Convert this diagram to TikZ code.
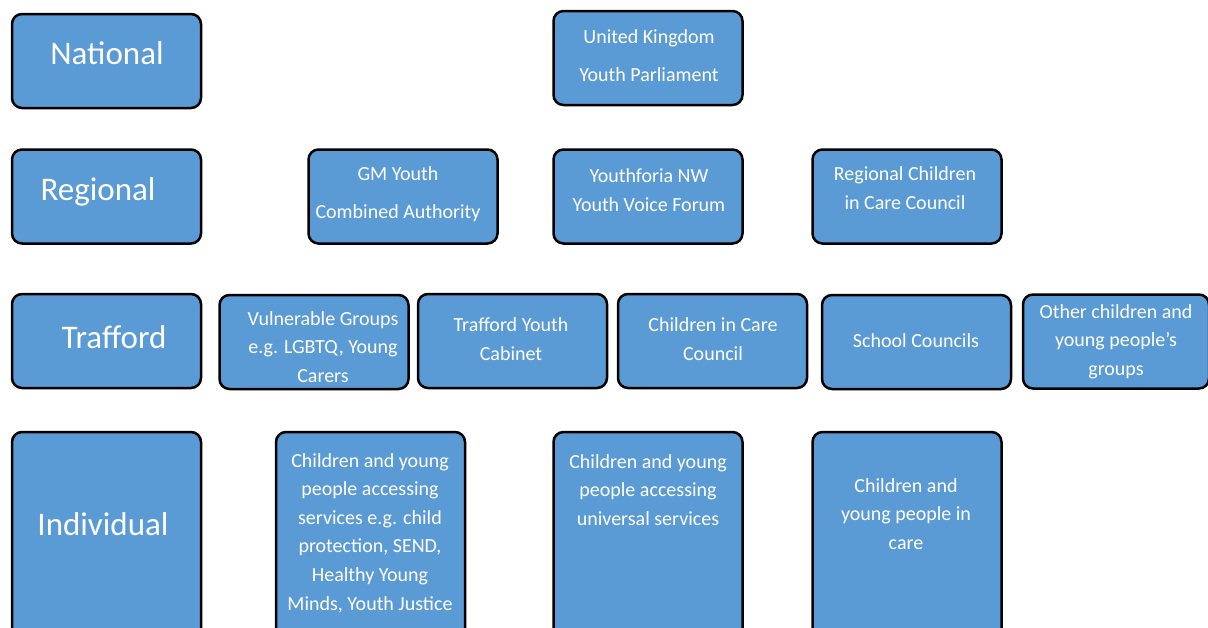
\documentclass[tikz,border=0pt]{standalone}
\usepackage{fontspec}
\setmainfont{Carlito}
\definecolor{boxblue}{RGB}{91,155,213}

\begin{document}
\begin{tikzpicture}[x=1pt,y=-1pt]
    \tikzstyle{box}=[
      draw=black,
      fill=boxblue,
      line width=2.5pt,
      rounded corners=10pt,
      minimum width=189pt,
      minimum height=94pt,
      inner sep=0pt,
    ]
    \tikzstyle{tall}=[box,minimum height=208pt]
    \tikzstyle{level}=[text=white,inner sep=0pt,font=\fontsize{33}{40}\selectfont]
    \tikzstyle{label}=[text=white,inner sep=0pt,align=center,font=\fontsize{20}{28.6}\selectfont]
    \tikzstyle{wide}=[label,font=\fontsize{20}{38}\selectfont]

    \useasboundingbox (0,0) rectangle (1208,627);
    \clip (0,0) rectangle (1208,627);

    % boxes
    \node[box] (national) at (106.5,61) {};
    \node[box] (ukyp) at (648,58) {};
    \node[box] (regional) at (106.5,196.5) {};
    \node[box] (gmca) at (403,196.5) {};
    \node[box] (youthforia) at (648,196.5) {};
    \node[box] (rcicc) at (907,196.5) {};
    \node[box] (trafford) at (106.5,341) {};
    \node[box] (vulnerable) at (314,342) {};
    \node[box] (cabinet) at (512.5,341) {};
    \node[box] (cicc) at (712.5,341) {};
    \node[box] (school) at (916.5,342) {};
    \node[box,minimum width=186pt] (other) at (1116,341.5) {};
    \node[tall] (individual) at (106.5,536) {};
    \node[tall] (services) at (370.5,536) {};
    \node[tall] (universal) at (648,536) {};
    \node[tall] (incare) at (907,536) {};

    % texts
    \node[level] (nationalT) at (107,53) {National};
    \node[level] (regionalT) at (98,192) {Regional};
    \node[level] (traffordT) at (114,337) {Trafford};
    \node[level] (individualT) at (103,524) {Individual};

    \node[wide] (ukypT) at (649,56) {United Kingdom\\Youth Parliament};
    \node[wide] (gmcaT) at (398,194.5) {GM Youth\\Combined Authority};
    \node[label] (youthforiaT) at (649,190) {Youthforia NW\\Youth Voice Forum};
    \node[label] (rciccT) at (905,188) {Regional Children\\in Care Council};
    \node[label] (vulnerableT) at (323,347) {Vulnerable Groups\\e.g. LGBTQ, Young\\Carers};
    \node[label] (cabinetT) at (511,339) {Trafford Youth\\Cabinet};
    \node[label] (ciccT) at (713,339) {Children in Care\\Council};
    \node[label] (schoolT) at (916,341) {School Councils};
    \node[label] (otherT) at (1116,341.5) {Other children and\\young people’s\\groups};
    \node[label] (servicesT) at (370,533) {Children and young\\people accessing\\services e.g. child\\protection, SEND,\\Healthy Young\\Minds, Youth Justice};
    \node[label] (universalT) at (648,490) {Children and young\\people accessing\\universal services};
    \node[label] (incareT) at (906,514) {Children and\\young people in\\care};
\end{tikzpicture}
\end{document}
